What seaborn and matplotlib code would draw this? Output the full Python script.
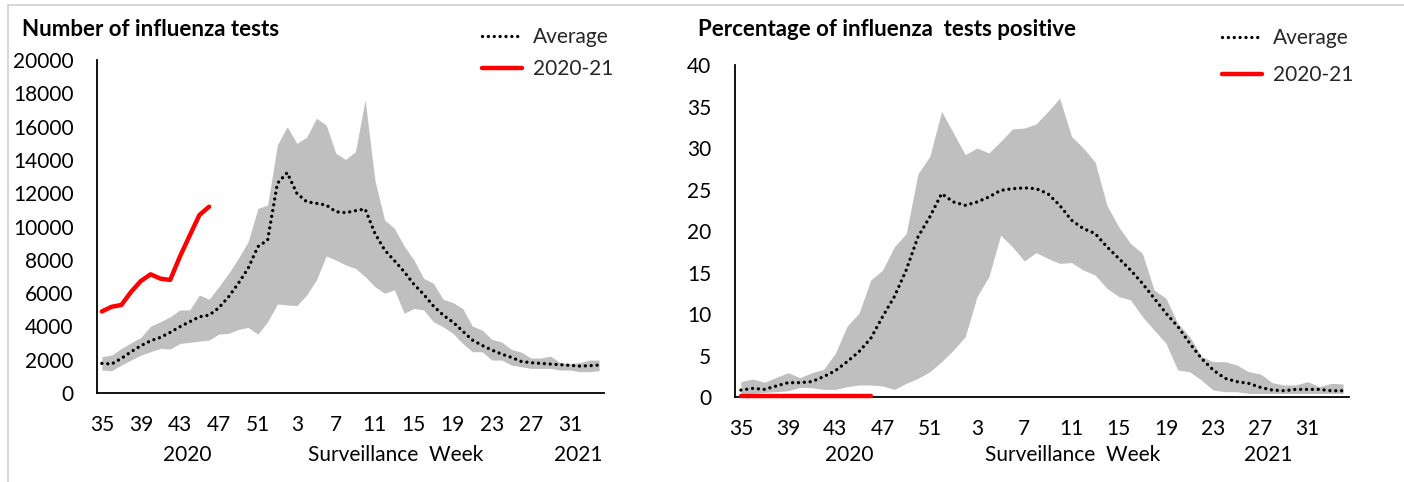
import matplotlib
matplotlib.use("Agg")
import matplotlib.pyplot as plt
from matplotlib.lines import Line2D
import seaborn as sns
import numpy as np

# surveillance weeks (2020 wk 35 -> 2021 wk 34)
weeks = [35, 36, 37, 38, 39, 40, 41, 42, 43, 44, 45, 46, 47, 48, 49, 50, 51, 52,
         1, 2, 3, 4, 5, 6, 7, 8, 9, 10, 11, 12, 13, 14, 15, 16, 17, 18, 19, 20,
         21, 22, 23, 24, 25, 26, 27, 28, 29, 30, 31, 32, 33, 34]
tick_weeks = [35, 39, 43, 47, 51, 3, 7, 11, 15, 19, 23, 27, 31]

# number of influenza tests
tests_avg = [1780, 1740, 2080, 2480, 2840, 3140, 3340, 3640, 3980, 4280, 4580, 4680,
             5120, 5780, 6590, 7490, 8790, 9190, 12590, 13230, 11990, 11490, 11390,
             11290, 10890, 10830, 10950, 11050, 9590, 8590, 7950, 7290, 6530, 5930,
             5230, 4680, 4260, 3720, 3180, 2860, 2580, 2340, 2140, 1900, 1820, 1780,
             1740, 1700, 1660, 1620, 1640, 1680]
tests_max = [2180, 2280, 2680, 3020, 3340, 4020, 4280, 4580, 4990, 4990, 5890, 5630,
             6390, 7190, 8090, 9090, 11090, 11290, 14900, 15990, 14990, 15360, 16500,
             16100, 14390, 14030, 14490, 17600, 12790, 10390, 9890, 8830, 7990, 6890,
             6590, 5630, 5430, 5080, 4020, 3780, 3220, 3060, 2620, 2460, 2100, 2100,
             2220, 1820, 1780, 1820, 1980, 1980]
tests_min = [1380, 1340, 1680, 1980, 2280, 2480, 2680, 2640, 2980, 3040, 3120, 3180,
             3540, 3580, 3820, 3940, 3540, 4280, 5350, 5290, 5250, 5890, 6790, 8230,
             7990, 7690, 7490, 6990, 6390, 5990, 6200, 4790, 5080, 4990, 4280, 3980,
             3580, 2980, 2480, 2480, 1980, 1980, 1680, 1580, 1480, 1480, 1480, 1380,
             1380, 1280, 1280, 1340]
tests_2020 = [4900, 5180, 5290, 6080, 6730, 7130, 6870, 6790, 8190, 9450, 10690, 11190]

# percentage of influenza tests positive
pos_avg = [0.84, 1.04, 0.92, 1.33, 1.73, 1.73, 1.85, 2.45, 3.17, 4.26, 5.46, 7.07,
           9.68, 12.1, 15.3, 19.3, 21.7, 24.5, 23.5, 23.1, 23.5, 24.1, 24.9, 25.1,
           25.2, 25.1, 24.5, 23.1, 21.3, 20.3, 19.7, 18.1, 16.7, 15.3, 13.7, 11.9,
           10.1, 8.5, 6.5, 4.66, 3.25, 2.25, 1.85, 1.65, 1.16, 0.84, 0.76, 0.92,
           0.92, 0.92, 0.76, 0.76]
pos_max = [1.85, 2.17, 1.77, 2.37, 2.93, 2.33, 2.93, 3.33, 5.26, 8.55, 10.1, 14.1,
           15.3, 18.1, 19.7, 26.9, 29.0, 34.4, 31.8, 29.2, 30.0, 29.4, 30.8, 32.3,
           32.4, 32.9, 34.4, 36.0, 31.4, 30.0, 28.3, 23.1, 20.5, 18.5, 17.3, 12.9,
           11.9, 8.9, 7.3, 4.9, 4.26, 4.26, 3.86, 3.05, 2.77, 1.73, 1.45, 1.45,
           1.85, 1.24, 1.65, 1.57]
pos_min = [0.44, 0.44, 0.56, 0.64, 0.76, 1.16, 1.12, 0.92, 0.92, 1.24, 1.45, 1.45,
           1.33, 0.92, 1.65, 2.25, 3.05, 4.26, 5.66, 7.27, 12.1, 14.5, 19.5, 18.1,
           16.4, 17.4, 16.7, 16.1, 16.2, 15.3, 14.7, 13.1, 12.1, 11.7, 9.7, 8.07,
           6.47, 3.25, 3.05, 2.05, 0.84, 0.64, 0.64, 0.44, 0.44, 0.44, 0.44, 0.44,
           0.44, 0.44, 0.44, 0.44]
pos_2020 = [0.1, 0.1, 0.1, 0.1, 0.1, 0.1, 0.1, 0.1, 0.1, 0.1, 0.1, 0.1]

sns.set_theme(style="white")
plt.rcParams["font.family"] = ["Lato", "DejaVu Sans"]

fig = plt.figure(figsize=(14.04, 4.82), dpi=100)
ax1 = fig.add_axes([0.0691, 0.1846, 0.3611, 0.6909])
ax2 = fig.add_axes([0.5235, 0.1763, 0.4373, 0.6888])

GREY = "#bfbfbf"
dotted = (0, (0.01, 1.75))


def draw_panel(ax, avg, lo, hi, cur, yticks, ylim, title, title_x, year_pos,
               year_y, leg_anchor, leg_spacing):
    x = np.arange(len(weeks))
    ax.fill_between(x, lo, hi, color=GREY, lw=0)
    sns.lineplot(x=x, y=avg, ax=ax, color="black", lw=2.4,
                 linestyle=dotted, dash_capstyle="round", label="Average")
    xc = np.arange(len(cur))
    sns.lineplot(x=xc, y=cur, ax=ax, color="#ff0000", lw=3.2,
                 solid_capstyle="round", label="2020-21", clip_on=False, zorder=5)

    ax.set_xlim(-0.5, len(weeks) - 0.5)
    ax.set_ylim(*ylim)
    ax.set_yticks(yticks)
    ax.set_yticklabels([str(v) for v in yticks])
    ticks = [weeks.index(w) for w in tick_weeks]
    ax.set_xticks(ticks)
    ax.set_xticklabels([str(w) for w in tick_weeks])
    ax.tick_params(axis="both", length=0, labelsize=15, colors="black")
    ax.tick_params(axis="y", pad=17)
    ax.tick_params(axis="x", pad=16)
    for s in ["top", "right"]:
        ax.spines[s].set_visible(False)
    for s in ["left", "bottom"]:
        ax.spines[s].set_color("black")
        ax.spines[s].set_linewidth(1.3)
    ax.set_xlabel("")
    ax.set_ylabel("")

    tr = ax.get_xaxis_transform()
    for lbl, xp in year_pos:
        ax.text(xp, year_y, lbl, transform=tr, ha="center", va="center",
                fontsize=15, color="black")

    fig.text(title_x, 0.938, title, ha="left", va="center", fontsize=16,
             fontweight="bold", color="black")

    ax.legend(loc="upper right", bbox_to_anchor=leg_anchor,
              bbox_transform=fig.transFigure, frameon=False, fontsize=15,
              handlelength=1.95, handletextpad=0.5, labelspacing=leg_spacing,
              borderaxespad=0, borderpad=0)


draw_panel(ax1, tests_avg, tests_min, tests_max, tests_2020,
           list(range(0, 20001, 2000)), (0, 20000),
           "Number of influenza tests", 0.0157,
           [("2020", 8.8), ("Surveillance  Week", 30.1), ("2021", 48.9)],
           -0.186, (0.4366, 0.944), 0.6)

draw_panel(ax2, pos_avg, pos_min, pos_max, pos_2020,
           list(range(0, 41, 5)), (0, 40),
           "Percentage of influenza  tests positive", 0.4972,
           [("2020", 9.2), ("Surveillance  Week", 28.1), ("2021", 44.7)],
           -0.175, (0.9637, 0.942), 0.84)

# light frame from the source screenshot
fig.add_artist(Line2D([8 / 1404, 1], [1 - 5 / 482, 1 - 5 / 482],
                      transform=fig.transFigure, color="#d0d0d0", lw=1.2))
fig.add_artist(Line2D([8 / 1404, 8 / 1404], [0, 1 - 5 / 482],
                      transform=fig.transFigure, color="#d0d0d0", lw=1.2))

fig.savefig("out.png", dpi=100, facecolor="white")
